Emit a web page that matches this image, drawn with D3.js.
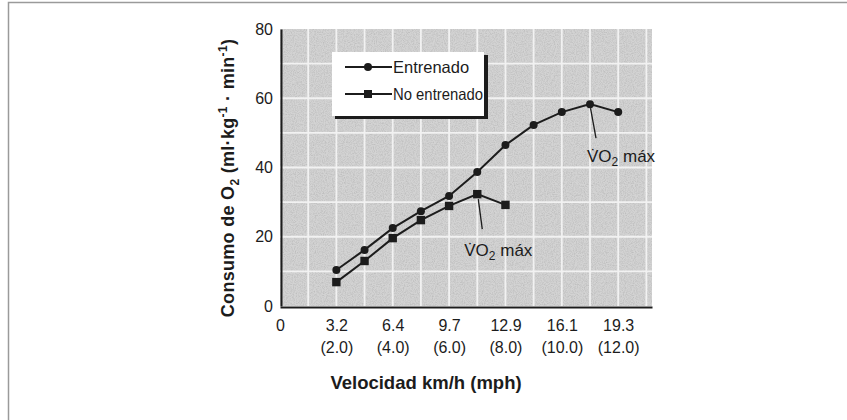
<!DOCTYPE html>
<html>
<head>
<meta charset="utf-8">
<script src="https://cdn.jsdelivr.net/npm/d3@7/dist/d3.min.js"></script>
<style>
  html, body { margin: 0; padding: 0; background: #fff; }
  svg { display: block; }
  text { font-family: "Liberation Sans", Arial, Helvetica, sans-serif; fill: #1c1c1c; }
</style>
</head>
<body>
<svg id="chart" width="847" height="420"></svg>
<script>
// Speed in mph for each measured stage
const mphTrained = [2, 3, 4, 5, 6, 7, 8, 9, 10, 11, 12];
// O2 uptake (ml·kg-1·min-1), trained subjects
const vo2Trained = [10.4, 16.2, 22.5, 27.4, 31.8, 38.7, 46.5, 52.3, 56.0, 58.3, 56.0];
// Untrained subjects stop earlier
const mphUntrained = [2, 3, 4, 5, 6, 7, 8];
const vo2Untrained = [6.9, 13.0, 19.6, 24.8, 28.9, 32.3, 29.2];

// Axis ticks: position in mph, km/h label and (mph) label
const xTickMph = [0, 2, 4, 6, 8, 10, 12];
const xTickKmh = ["0", "3.2", "6.4", "9.7", "12.9", "16.1", "19.3"];
const xTickMphLabel = ["", "(2.0)", "(4.0)", "(6.0)", "(8.0)", "(10.0)", "(12.0)"];
const yTicks = [0, 20, 40, 60, 80];

const seriesNames = ["Entrenado", "No entrenado"];

const svg = d3.select("#chart");
const ink = "#1c1c1c";

const x = d3.scaleLinear().domain([0, 13.2]).range([280, 652]);
const y = d3.scaleLinear().domain([0, 80]).range([306, 29]);

// outer page frame
svg.append("rect")
  .attr("x", 8.5).attr("y", 2.5).attr("width", 900).attr("height", 500)
  .attr("fill", "none").attr("stroke", "#9a9a9a").attr("stroke-width", 1.5);

// grainy paper texture for the plot background
const defs = svg.append("defs");
const f = defs.append("filter").attr("id", "grain").attr("x", 0).attr("y", 0)
  .attr("width", "100%").attr("height", "100%");
f.append("feTurbulence").attr("type", "fractalNoise").attr("baseFrequency", 0.9)
  .attr("numOctaves", 2).attr("seed", 4).attr("result", "n");
f.append("feColorMatrix").attr("in", "n").attr("type", "matrix")
  .attr("values", "0 0 0 0 0.4  0 0 0 0 0.4  0 0 0 0 0.4  0 0 0 -2.2 1.35");

const [x0, x1] = x.range();
const [yb, yt] = y.range();

svg.append("rect")
  .attr("x", x0).attr("y", yt).attr("width", x1 - x0).attr("height", yb - yt)
  .attr("fill", "#d3d3d3");
svg.append("rect")
  .attr("x", x0).attr("y", yt).attr("width", x1 - x0).attr("height", yb - yt)
  .attr("filter", "url(#grain)").attr("opacity", 0.5);

// white grid: every 1 mph, every 10 units
const grid = svg.append("g").attr("stroke", "#f6f6f6").attr("stroke-width", 1.8).attr("opacity", 0.9);
grid.selectAll("line.v").data(d3.range(1, 14)).join("line")
  .attr("x1", d => x(d)).attr("x2", d => x(d)).attr("y1", yt).attr("y2", yb);
grid.selectAll("line.h").data(d3.range(10, 80, 10)).join("line")
  .attr("x1", x0).attr("x2", x1).attr("y1", d => y(d)).attr("y2", d => y(d));

// axes
const yAxis = svg.append("g").attr("transform", `translate(${x0 + 1},0)`)
  .call(d3.axisLeft(y).tickValues(yTicks).tickSize(0).tickSizeOuter(0).tickPadding(8));
yAxis.select(".domain").attr("stroke", ink).attr("stroke-width", 2);
yAxis.selectAll("text").attr("font-size", 16).attr("fill", ink)
  .attr("font-family", "Liberation Sans, Arial, sans-serif");

const xAxis = svg.append("g").attr("transform", `translate(0,${yb + 1})`)
  .call(d3.axisBottom(x).tickValues(xTickMph).tickSize(0).tickSizeOuter(0)
    .tickFormat((d, i) => xTickKmh[i]));
xAxis.select(".domain").attr("stroke", ink).attr("stroke-width", 2);
xAxis.selectAll(".tick text").each(function (d, i) {
  const t = d3.select(this).text(null)
    .attr("font-size", 16).attr("fill", ink).attr("y", 0).attr("dy", null)
    .attr("font-family", "Liberation Sans, Arial, sans-serif");
  t.append("tspan").attr("x", 0).attr("y", 24).text(xTickKmh[i]);
  t.append("tspan").attr("x", 0).attr("y", 46).text(xTickMphLabel[i]);
});

// axis titles
svg.append("text")
  .attr("x", 426).attr("y", 389).attr("text-anchor", "middle")
  .attr("font-size", 18.5).attr("font-weight", "bold")
  .text("Velocidad km/h (mph)");

const yTitle = svg.append("text")
  .attr("transform", "translate(234,178) rotate(-90)")
  .attr("text-anchor", "middle")
  .attr("font-size", 18).attr("font-weight", "bold").attr("letter-spacing", 0.3);
yTitle.append("tspan").text("Consumo de O");
yTitle.append("tspan").attr("font-size", 12).attr("dy", 5).text("2");
yTitle.append("tspan").attr("dy", -5).text(" (ml·kg");
yTitle.append("tspan").attr("font-size", 12).attr("dy", -7).text("-1");
yTitle.append("tspan").attr("dy", 7).text(" · min");
yTitle.append("tspan").attr("font-size", 12).attr("dy", -7).text("-1");
yTitle.append("tspan").attr("dy", 7).text(")");

// series lines and markers
const line = d3.line().x(d => x(d[0])).y(d => y(d[1]));
const trained = mphTrained.map((m, i) => [m, vo2Trained[i]]);
const untrained = mphUntrained.map((m, i) => [m, vo2Untrained[i]]);

svg.append("path").datum(untrained).attr("d", line)
  .attr("fill", "none").attr("stroke", ink).attr("stroke-width", 2);
svg.append("path").datum(trained).attr("d", line)
  .attr("fill", "none").attr("stroke", ink).attr("stroke-width", 2);

svg.append("g").selectAll("circle").data(trained).join("circle")
  .attr("cx", d => x(d[0])).attr("cy", d => y(d[1])).attr("r", 4).attr("fill", ink);
svg.append("g").selectAll("rect").data(untrained).join("rect")
  .attr("x", d => x(d[0]) - 4.2).attr("y", d => y(d[1]) - 4.2)
  .attr("width", 8.4).attr("height", 8.4).attr("fill", ink);

// VO2 max call-outs at each series' peak
function vo2Label(lx, ly) {
  const t = svg.append("text").attr("x", lx).attr("y", ly).attr("font-size", 17);
  t.append("tspan").text("V\u0307O");
  t.append("tspan").attr("font-size", 12).attr("dy", 4).text("2");
  t.append("tspan").attr("dy", -4).text(" máx");
}
const iT = d3.maxIndex(vo2Trained);
const pT = [x(mphTrained[iT]), y(vo2Trained[iT])];
svg.append("line").attr("x1", pT[0] + 0.5).attr("y1", pT[1] + 4).attr("x2", pT[0] + 6).attr("y2", pT[1] + 34)
  .attr("stroke", ink).attr("stroke-width", 1.3);
vo2Label(pT[0] - 3, pT[1] + 58);

const iU = d3.maxIndex(vo2Untrained);
const pU = [x(mphUntrained[iU]), y(vo2Untrained[iU])];
svg.append("line").attr("x1", pU[0] + 1).attr("y1", pU[1] + 5).attr("x2", pU[0] + 5).attr("y2", pU[1] + 35)
  .attr("stroke", ink).attr("stroke-width", 1.3);
vo2Label(pU[0] - 13, pU[1] + 62);

// legend box with drop shadow
const lg = svg.append("g");
lg.append("rect").attr("x", 335).attr("y", 55).attr("width", 153).attr("height", 64).attr("fill", ink);
lg.append("rect").attr("x", 332).attr("y", 52).attr("width", 152).attr("height", 64).attr("fill", "#fff");
const legendRows = [
  { name: seriesNames[0], y: 67, shape: "circle", len: null },
  { name: seriesNames[1], y: 94, shape: "square", len: 90 }
];
legendRows.forEach(r => {
  lg.append("line").attr("x1", 345).attr("x2", 392).attr("y1", r.y).attr("y2", r.y)
    .attr("stroke", ink).attr("stroke-width", 2);
  if (r.shape === "circle") {
    lg.append("circle").attr("cx", 368).attr("cy", r.y).attr("r", 4).attr("fill", ink);
  } else {
    lg.append("rect").attr("x", 364).attr("y", r.y - 4).attr("width", 8).attr("height", 8).attr("fill", ink);
  }
  const t = lg.append("text").attr("x", 393).attr("y", r.y + 6).attr("font-size", 16.5).text(r.name);
  if (r.len) t.attr("textLength", r.len).attr("lengthAdjust", "spacingAndGlyphs");
});
</script>
</body>
</html>
